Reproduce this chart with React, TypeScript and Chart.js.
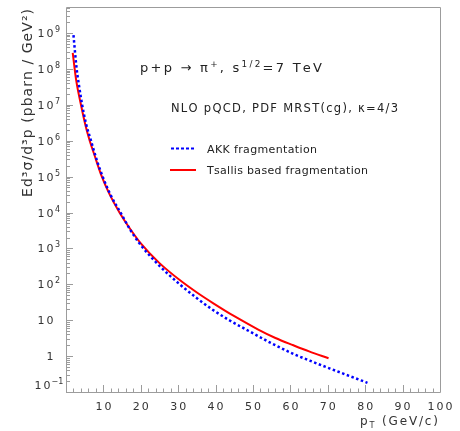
import { useEffect, useRef } from "react";
import { Chart, registerables } from "chart.js";

Chart.register(...registerables);

// ---- data ----
const pTTsallis = [1.8, 2.7, 4.0, 5.2, 6.4, 7.6, 9.4, 11.6, 14.3, 17.4, 20, 25, 30.5, 35, 39.4, 45, 51.4, 56, 60.8, 65, 70.2];
const tsallisValues = [2.8e8, 5.0e7, 1.0e7, 2.7e6, 9.5e5, 4.0e5, 1.12e5, 3.3e4, 1.0e4, 3.2e3, 1380, 389, 129, 59, 29.5, 12.9, 5.5, 3.2, 2.0, 1.35, 0.87];

const pTAKK = [2.0, 2.85, 3.57, 4.28, 5.35, 6.68, 8.2, 9.8, 12.0, 14.7, 17.1, 20, 25, 30.5, 35, 39.4, 44, 48.3, 55, 61, 66, 70.6, 75, 80.6];
const akkValues = [8.7e8, 1.0e8, 3.0e7, 1.05e7, 3.0e6, 1.0e6, 2.95e5, 1.0e5, 2.95e4, 9.5e3, 3.4e3, 1230, 327, 98, 41, 19, 9.5, 5.4, 2.26, 1.13, 0.69, 0.45, 0.30, 0.18];

const xTickLabels = [10, 20, 30, 40, 50, 60, 70, 80, 90, 100];
const yTickExponents = [-1, 0, 1, 2, 3, 4, 5, 6, 7, 8, 9];

const seriesNames = ["AKK fragmentation", "Tsallis based fragmentation"];
const titleText = "p+p → π";
const subtitleText = "NLO pQCD, PDF MRST(cg), κ=4/3";
const yTitle = "Ed³σ/d³p (pbarn / GeV²)";

const X_MIN = 0;
const X_MAX = 100;
const Y_MIN = 0.1;
const Y_MAX = 5.3e9;

const AXIS_COLOR = "#9c9c9c";
const TEXT_COLOR = "#333333";
const BLUE = "#0000ff";
const RED = "#ff0000";
const FONT = '"DejaVu Sans", "Liberation Sans", sans-serif';

type Seg = { t: string; sup?: boolean; sub?: boolean };

function drawRich(
  ctx: CanvasRenderingContext2D,
  segs: Seg[],
  x: number,
  y: number,
  size: number,
  opts: { target?: number; ls?: number; align?: "left" | "right" | "center" } = {}
) {
  const fontOf = (s: Seg) => `${s.sup || s.sub ? size * 0.68 : size}px ${FONT}`;
  let nat = 0;
  let n = 0;
  for (const s of segs) {
    ctx.font = fontOf(s);
    for (const ch of Array.from(s.t)) {
      nat += ctx.measureText(ch).width;
      n += 1;
    }
  }
  let ls = opts.ls ?? 0;
  if (opts.target != null) ls = (opts.target - nat) / Math.max(1, n - 1);
  const total = nat + ls * (n - 1);
  let cx = x;
  if (opts.align === "right") cx = x - total;
  else if (opts.align === "center") cx = x - total / 2;
  for (const s of segs) {
    ctx.font = fontOf(s);
    const dy = s.sup ? -size * 0.42 : s.sub ? size * 0.22 : 0;
    for (const ch of Array.from(s.t)) {
      ctx.fillText(ch, cx, y + dy);
      cx += ctx.measureText(ch).width + ls;
    }
  }
}

const rootStyle = {
  id: "rootStyle",
  afterDraw(chart: any) {
    const { ctx, scales } = chart;
    const xs = scales.x;
    const ys = scales.y;
    const L = Math.round(xs.getPixelForValue(X_MIN));
    const R = Math.round(xs.getPixelForValue(X_MAX));
    const T = Math.round(ys.getPixelForValue(Y_MAX));
    const B = Math.round(ys.getPixelForValue(Y_MIN));
    ctx.save();
    ctx.textAlign = "left";
    ctx.textBaseline = "alphabetic";

    // frame
    ctx.strokeStyle = AXIS_COLOR;
    ctx.lineWidth = 1;
    ctx.beginPath();
    ctx.rect(L + 0.5, T + 0.5, R - L, B - T);
    ctx.stroke();

    // x ticks (inward)
    ctx.beginPath();
    for (let v = X_MIN; v <= X_MAX; v += 2) {
      const px = Math.round(xs.getPixelForValue(v)) + 0.5;
      const len = v % 10 === 0 ? 7 : 3.5;
      ctx.moveTo(px, B);
      ctx.lineTo(px, B - len);
    }
    // y ticks (inward)
    for (let e = -1; e <= 9; e++) {
      for (let m = 1; m <= 9; m++) {
        const v = m * Math.pow(10, e);
        if (v < Y_MIN * 0.999 || v > Y_MAX) continue;
        const py = Math.round(ys.getPixelForValue(v)) + 0.5;
        const len = m === 1 ? 7 : 4;
        ctx.moveTo(L, py);
        ctx.lineTo(L + len, py);
      }
    }
    ctx.stroke();

    ctx.fillStyle = TEXT_COLOR;
    // x tick labels
    for (const v of xTickLabels) {
      const px = xs.getPixelForValue(v);
      drawRich(ctx, [{ t: String(v) }], px, B + 18, 11, { ls: 2, align: "center" });
    }
    // y tick labels
    for (const e of yTickExponents) {
      const py = ys.getPixelForValue(Math.pow(10, e));
      if (e === 0) {
        drawRich(ctx, [{ t: "1" }], 53.5, py + 4, 11, { ls: 2, align: "right" });
      } else if (e === 1) {
        drawRich(ctx, [{ t: "10" }], 53.5, py + 4, 11, { ls: 2, align: "right" });
      } else {
        const yy = e === -1 ? py - 3 : py + 4;
        drawRich(ctx, [{ t: "10" }], e === -1 ? 50.5 : 53.5, yy, 11, { ls: 2, align: "right" });
        ctx.font = `8px ${FONT}`;
        ctx.fillText(e === -1 ? "−1" : String(e), e === -1 ? 51.5 : 55, yy - 5);
      }
    }

    // title
    ctx.fillStyle = "#222";
    drawRich(
      ctx,
      [{ t: titleText }, { t: "+", sup: true }, { t: ", s" }, { t: "1/2", sup: true }, { t: "=7 TeV" }],
      140,
      72,
      13,
      { target: 182 }
    );
    drawRich(ctx, [{ t: subtitleText }], 171, 112, 11.5, { target: 227 });

    // legend
    ctx.lineWidth = 2;
    ctx.strokeStyle = BLUE;
    ctx.setLineDash([3, 2]);
    ctx.beginPath();
    ctx.moveTo(171, 148.5);
    ctx.lineTo(196, 148.5);
    ctx.stroke();
    ctx.setLineDash([]);
    ctx.strokeStyle = RED;
    ctx.beginPath();
    ctx.moveTo(170, 170);
    ctx.lineTo(196, 170);
    ctx.stroke();
    drawRich(ctx, [{ t: seriesNames[0] }], 207, 153, 11, { target: 110 });
    drawRich(ctx, [{ t: seriesNames[1] }], 207, 174, 11, { target: 161 });

    // axis titles
    ctx.fillStyle = TEXT_COLOR;
    drawRich(ctx, [{ t: "p" }, { t: "T", sub: true }, { t: " (GeV/c)" }], 438, 425, 12, { target: 78, align: "right" });
    ctx.save();
    ctx.translate(32, 197);
    ctx.rotate(-Math.PI / 2);
    drawRich(ctx, [{ t: yTitle }], 0, 0, 14, { target: 188 });
    ctx.restore();

    ctx.restore();
  },
};

export default function App() {
  const ref = useRef<HTMLCanvasElement | null>(null);
  useEffect(() => {
    document.body.style.margin = "0";
    const canvas = ref.current;
    if (!canvas) return;
    const chart = new Chart(canvas, {
      type: "line",
      data: {
        datasets: [
          {
            label: seriesNames[0],
            data: pTAKK.map((x, i) => ({ x, y: akkValues[i] })),
            borderColor: BLUE,
            borderWidth: 2.5,
            borderDash: [2.5, 2.5],
            pointRadius: 0,
            fill: false,
            cubicInterpolationMode: "monotone",
          },
          {
            label: seriesNames[1],
            data: pTTsallis.map((x, i) => ({ x, y: tsallisValues[i] })),
            borderColor: RED,
            borderWidth: 2,
            pointRadius: 0,
            fill: false,
            cubicInterpolationMode: "monotone",
          },
        ],
      },
      options: {
        responsive: false,
        animation: false,
        devicePixelRatio: 1,
        layout: { padding: { left: 66, top: 7, right: 20, bottom: 39 } },
        plugins: { legend: { display: false }, tooltip: { enabled: false }, title: { display: false } },
        scales: {
          x: { type: "linear", min: X_MIN, max: X_MAX, display: false },
          y: { type: "logarithmic", min: Y_MIN, max: Y_MAX, display: false },
        },
      },
      plugins: [rootStyle],
    });
    return () => chart.destroy();
  }, []);
  return (
    <div style={{ width: 460, height: 431, background: "#fff" }}>
      <canvas ref={ref} width={460} height={431} style={{ display: "block" }} />
    </div>
  );
}
